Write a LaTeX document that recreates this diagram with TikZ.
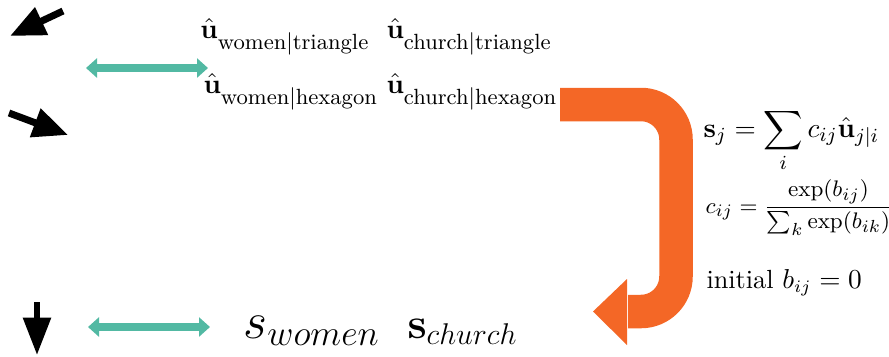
\documentclass[tikz,border=0pt]{standalone}
\usepackage{amsmath}
\usetikzlibrary{arrows.meta}
\definecolor{tealc}{RGB}{82,185,163}
\definecolor{orangec}{RGB}{244,103,38}
\newcommand{\uvec}[2]{{\fontsize{11}{12}\selectfont$\hat{\mathbf{u}}$}\raisebox{-4.4pt}{\fontsize{8.8}{10}\selectfont #1$|$#2}}
\begin{document}
\begin{tikzpicture}[x=0.4pt,y=-0.4pt,
  txt/.style={inner sep=0pt, anchor=base west},
  blackarrow/.style={line width=2.8pt, -{Triangle[width=11.6pt,length=14pt]}},
  tealarrow/.style={tealc, line width=3.2pt, {Triangle[width=7.6pt,length=4.4pt]}-{Triangle[width=7.6pt,length=4.4pt]}}]
\useasboundingbox (0,0) rectangle (889,356);
% black arrows
\coordinate (b1s) at (63,11);  \coordinate (b1e) at (10,36);
\coordinate (b2s) at (9,113);  \coordinate (b2e) at (68,135);
\coordinate (b3s) at (37,302); \coordinate (b3e) at (37,355);
\draw[blackarrow] (b1s) -- (b1e);
\draw[blackarrow] (b2s) -- (b2e);
\draw[blackarrow, line width=2.4pt, -{Triangle[width=10.8pt,length=15pt]}] (b3s) -- (b3e);
% teal arrows
\coordinate (t1l) at (86,68);  \coordinate (t1r) at (208,68);
\coordinate (t2l) at (88,327); \coordinate (t2r) at (210,327);
\draw[tealarrow] (t1l) -- (t1r);
\draw[tealarrow] (t2l) -- (t2r);
% u-hat texts
\node[txt] (u1) at (200,38) {\uvec{women}{triangle}};
\node[txt] (u2) at (386,38) {\uvec{church}{triangle}};
\node[txt] (u3) at (203,93) {\uvec{women}{hexagon}};
\node[txt] (u4) at (386,93) {\uvec{church}{hexagon}};
% orange loop arrow
\coordinate (o1) at (560,104.5);
\coordinate (o2) at (676,104.5);
\coordinate (o3) at (676,311.5);
\coordinate (o4) at (628,311.5);
\draw[orangec, line width=13.4pt, rounded corners=14pt] (o1) -- (o2) -- (o3) -- (o4);
\fill[orangec] (627,279) -- (593,311.5) -- (627,345) -- cycle;
% formulas
\node[txt, font=\fontsize{11.2}{13}\selectfont] (f1) at (703,137) {$\displaystyle \mathbf{s}_j=\sum_i c_{ij}\hat{\mathbf{u}}_{j|i}$};
\node[txt, font=\fontsize{9.4}{11}\selectfont] (f2) at (705,213) {$\displaystyle c_{ij}=\frac{\exp(b_{ij})}{\sum_k\exp(b_{ik})}$};
\node[txt, font=\fontsize{10.5}{12}\selectfont] (f3) at (706,288) {initial $b_{ij}=0$};
% s texts
\node[txt, font=\fontsize{20}{22}\selectfont] (s1) at (243,338) {$s_{women}$};
\node[txt, font=\fontsize{17.5}{20}\selectfont] (s2) at (407,338) {$\mathbf{s}_{church}$};
\end{tikzpicture}
\end{document}
